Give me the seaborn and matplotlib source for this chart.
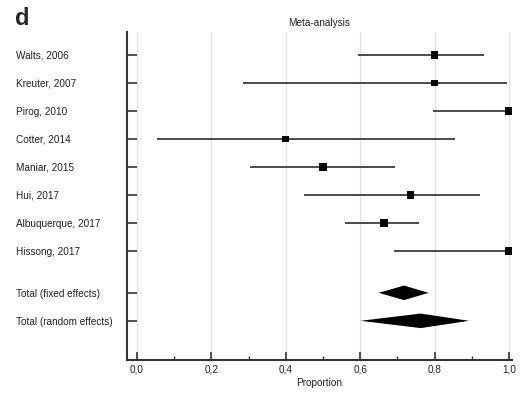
import numpy as np
import matplotlib
matplotlib.use("Agg")
import matplotlib.pyplot as plt
import seaborn as sns

studies = ["Walts, 2006", "Kreuter, 2007", "Pirog, 2010", "Cotter, 2014",
           "Maniar, 2015", "Hui, 2017", "Albuquerque, 2017", "Hissong, 2017"]
est = [0.80, 0.80, 1.00, 0.40, 0.50, 0.735, 0.664, 1.00]
ci_low = [0.595, 0.285, 0.795, 0.054, 0.305, 0.45, 0.558, 0.692]
ci_high = [0.933, 0.995, 1.00, 0.854, 0.694, 0.923, 0.759, 1.00]
marker_size = [32, 24, 32, 24, 30, 30, 30, 32]

pooled = ["Total (fixed effects)", "Total (random effects)"]
pooled_est = [0.718, 0.763]
pooled_low = [0.650, 0.601]
pooled_high = [0.784, 0.893]

sns.set_theme(style="white")
plt.rcParams["font.family"] = ["Liberation Sans", "DejaVu Sans"]

fig = plt.figure(figsize=(5.23, 3.96), dpi=100)
ax = fig.add_axes([127 / 523, 1 - 360 / 396, (511.5 - 127) / 523, (360 - 32) / 396])

ypos = np.arange(len(studies))
pooled_y = np.array([len(studies) + 0.5, len(studies) + 1.5])

# intervalos de confianza
ax.hlines(ypos, ci_low, ci_high, color="#1a1a1a", lw=1.1, zorder=3)
sns.scatterplot(x=est, y=ypos, marker="s", s=marker_size, color="black",
                edgecolor="black", linewidth=0, ax=ax, zorder=4, legend=False)

# diamantes de los totales
for yc, c, lo, hi in zip(pooled_y, pooled_est, pooled_low, pooled_high):
    ax.fill([lo, c, hi, c], [yc, yc - 0.26, yc, yc + 0.26], color="black", lw=0, zorder=4)

ax.set_xlim(-0.027, 1.007)
ax.set_ylim(len(studies) + 2.9, -0.82)
ax.set_yticks(np.concatenate([ypos, pooled_y]))
ax.set_yticklabels(studies + pooled, fontsize=7.2, ha="left", color="#222222")
ax.set_xticks(np.arange(0, 1.01, 0.2))
ax.set_xticks(np.arange(0.1, 1.0, 0.2), minor=True)
ax.set_xticklabels([f"{v:.1f}".replace(".", ",") for v in np.arange(0, 1.01, 0.2)],
                   fontsize=7.2, color="#222222")
ax.tick_params(axis="y", direction="in", length=7, width=1.2, pad=80, color="#333333", left=True)
ax.tick_params(axis="x", which="major", direction="in", length=5.5, width=1.2, pad=3,
               color="#333333", bottom=True)
ax.tick_params(axis="x", which="minor", direction="in", length=3, width=1.0,
               color="#333333", bottom=True)
ax.grid(axis="x", which="major", color="#e3e3e3", lw=0.9, zorder=0)

for s in ["top", "right"]:
    ax.spines[s].set_visible(False)
for s in ["left", "bottom"]:
    ax.spines[s].set_color("#333333")
    ax.spines[s].set_linewidth(1.5)

ax.set_xlabel("Proportion", fontsize=7.2, labelpad=3, color="#222222")
ax.set_title("Meta-analysis", fontsize=7.2, pad=4, color="#222222")
fig.text(15 / 523, 1 - 7 / 396, "d", fontsize=17, fontweight="bold", va="top", ha="left")

fig.savefig("out.png", dpi=100)
